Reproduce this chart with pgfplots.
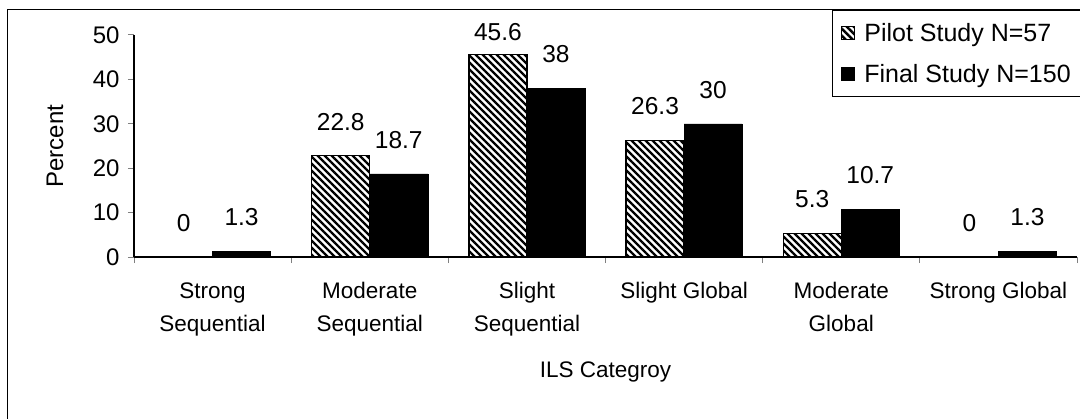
\documentclass[border=0pt]{standalone}
\usepackage{pgfplots}
\pgfplotsset{compat=1.18}
\usepackage{fontspec}
\setmainfont{Liberation Sans}
\usetikzlibrary{patterns.meta}
\begin{document}
\begin{tikzpicture}
\begin{axis}[
  at={(134bp,162bp)}, anchor=south west,
  scale only axis, width=943bp, height=222bp,
  xmin=-0.5, xmax=5.5, ymin=0, ymax=50,
  axis x line=bottom, axis y line=left,
  axis line style={-, line width=1.1bp},
  ybar=0pt, bar width=58bp,
  xtick={0,1,2,3,4,5},
  major x tick style={draw=none},
  minor xtick={-0.5,0.5,1.5,2.5,3.5,4.5,5.5},
  minor x tick style={line width=1bp},
  xtick align=outside, ytick align=outside,
  minor tick length=6bp, major tick length=6bp,
  ytick={0,10,20,30,40,50},
  y tick style={line width=1bp},
  /pgf/number format/assume math mode=true,
  yticklabel style={font=\fontsize{24bp}{27bp}\selectfont, xshift=-5bp},
  xticklabels={{Strong\\Sequential},{Moderate\\Sequential},{Slight\\Sequential},{Slight Global},{Moderate\\Global},{Strong Global}},
  xticklabel style={align=center, anchor=north, yshift=-16bp, font=\fontsize{22.5bp}{33bp}\selectfont},
  xlabel={ILS Categroy},
  ylabel={Percent},
  every axis x label/.style={at={(axis description cs:0.5,-0.518)}, anchor=center, font=\fontsize{22.5bp}{26bp}\selectfont},
  every axis y label/.style={at={(axis description cs:-0.0838,0.5)}, anchor=center, rotate=90, font=\fontsize{24bp}{27bp}\selectfont},
  point meta=explicit symbolic,
  visualization depends on={rawy \as \myy},
  nodes near coords,
  nodes near coords style={font=\fontsize{24.5bp}{28bp}\selectfont, anchor=center,
    yshift={(\myy>45?22:34)*1bp}},
  legend style={at={(axis description cs:0.740,1.1126)}, anchor=north west,
    draw=black, line width=1bp, font=\fontsize{25bp}{28bp}\selectfont,
    inner xsep=9bp, inner ysep=11bp, row sep=17bp, cells={anchor=west},
    /tikz/every odd column/.style={column sep=7bp}},
  legend image code/.code={\draw[#1, draw=black, line width=1bp] (0bp,-6.5bp) rectangle (13bp,6.5bp);},
]
\addplot[draw=black, line width=1.2bp, pattern={Lines[angle=-45,distance=4.95bp,line width=2.4bp]}]
  coordinates {(0,0)[0] (1,22.8)[22.8] (2,45.6)[45.6] (3,26.3)[26.3] (4,5.3)[5.3] (5,0)[0]};
\addlegendentry{Pilot Study N=57}
\addplot[draw=black, fill=black]
  coordinates {(0,1.3)[1.3] (1,18.7)[18.7] (2,38)[38] (3,30)[30] (4,10.7)[10.7] (5,1.3)[1.3]};
\addlegendentry{Final Study N=150}
\end{axis}
\draw[line width=1bp] (7bp,-5bp) -- (7bp,409bp) -- (1090bp,409bp);
\pgfresetboundingbox
\path[use as bounding box] (0,0) rectangle (1080bp,419bp);
\end{tikzpicture}
\end{document}
